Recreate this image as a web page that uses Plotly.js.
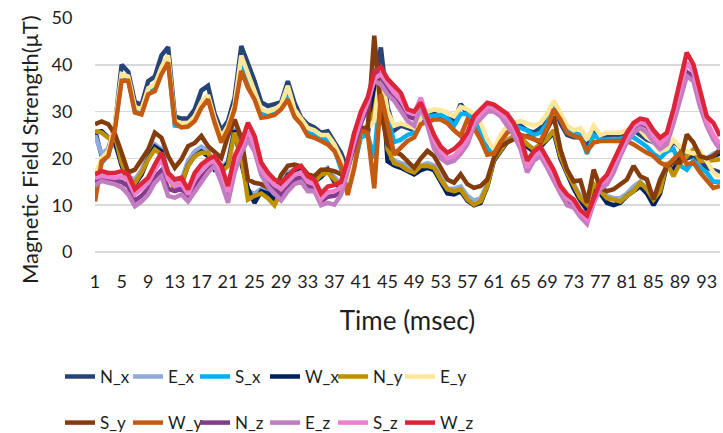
<!DOCTYPE html>
<html>
<head>
<meta charset="utf-8">
<script src="https://cdn.plot.ly/plotly-3.0.1.min.js"></script>
<style>html,body{margin:0;padding:0;background:#fff;}#chart{width:723px;height:433px;}</style>
</head>
<body>
<div id="chart"></div>
<script>
// Time index (msec)
const time = [1,2,3,4,5,6,7,8,9,10,11,12,13,14,15,16,17,18,19,20,21,22,23,24,25,26,27,28,29,30,
  31,32,33,34,35,36,37,38,39,40,41,42,43,44,45,46,47,48,49,50,51,52,53,54,55,56,57,58,59,60,
  61,62,63,64,65,66,67,68,69,70,71,72,73,74,75,76,77,78,79,80,81,82,83,84,85,86,87,88,89,90,
  91,92,93,94,95];
const xTickVals = [1,5,9,13,17,21,25,29,33,37,41,45,49,53,57,61,65,69,73,77,81,85,89,93];
const xTickLabels = ["1","5","9","13","17","21","25","29","33","37","41","45","49","53","57","61","65","69","73","77","81","85","89","93"];
const seriesNames = ["N_x","E_x","S_x","W_x","N_y","E_y","S_y","W_y","N_z","E_z","S_z","W_z"];

const N_x = [26.0,20.5,22.0,27.0,40.0,38.5,32.0,31.5,36.5,37.5,42.0,43.8,29.0,28.5,28.5,30.5,34.5,35.5,29.5,26.0,28.0,33.0,44.0,40.5,
  36.5,32.0,31.2,31.6,32.0,36.5,31.9,28.7,27.3,26.6,25.5,25.8,23.7,21.2,17.6,21.5,25.5,24.8,36.0,43.7,31.0,26.0,27.0,
  26.5,26.0,28.0,29.0,29.5,29.0,28.5,28.0,31.6,29.5,28.5,26.5,22.0,21.0,24.5,26.5,27.0,27.0,26.0,25.5,26.5,28.5,31.5,
  27.5,25.0,24.5,24.5,22.5,25.5,24.5,24.5,24.5,25.0,25.5,26.0,25.0,24.0,23.5,22.0,21.5,23.5,22.5,20.0,20.5,19.5,18.0,17.5,17.0];
const E_x = [25.0,21.0,22.0,23.0,19.5,16.0,15.5,17.5,21.0,23.0,22.0,17.0,14.5,15.5,19.5,21.5,22.5,21.5,18.5,18.0,19.5,26.5,20.0,13.0,
  12.5,13.5,13.0,11.5,14.5,17.0,17.5,18.0,16.5,16.0,17.0,18.0,16.0,14.5,16.5,21.5,26.0,26.0,34.0,40.0,21.0,19.5,19.0,
  18.5,17.5,18.5,19.0,18.5,16.0,13.5,13.5,14.0,12.0,11.0,11.5,14.5,20.0,22.0,24.0,24.8,24.5,23.0,22.0,23.0,24.5,26.0,
  21.0,17.0,14.5,12.0,10.0,14.0,13.5,12.0,11.5,11.5,12.5,14.0,15.0,13.5,11.0,13.5,19.0,17.5,20.5,21.0,21.5,20.5,20.0,21.0,21.5];
const S_x = [15.0,19.0,20.8,26.8,37.2,36.8,30.2,29.8,34.2,35.0,38.6,41.0,27.0,26.8,27.0,28.5,31.3,33.0,28.0,24.0,26.6,31.0,40.0,36.5,
  33.5,29.5,29.5,29.8,31.0,34.0,29.5,27.8,25.5,25.0,24.2,24.0,22.0,18.0,13.5,18.5,24.5,25.0,20.0,37.0,29.0,23.5,24.0,
  25.0,25.5,28.8,29.0,29.0,29.3,28.5,27.0,29.5,29.5,28.0,25.5,22.0,21.5,24.0,26.0,27.0,26.5,26.0,25.0,25.5,27.5,31.0,
  28.5,26.0,25.5,25.0,21.0,25.0,24.0,24.0,24.0,24.2,24.5,24.5,23.5,22.5,21.0,20.0,21.5,22.0,18.5,17.6,19.5,18.0,17.0,15.0,15.0];
const W_x = [25.5,25.8,24.5,23.5,18.5,15.0,14.5,16.5,20.0,22.5,21.5,16.5,13.5,14.5,18.5,20.5,21.5,20.5,17.5,17.5,19.0,26.0,19.0,13.5,
  10.5,13.0,12.5,11.0,14.0,16.5,17.0,17.5,16.0,15.0,16.0,17.5,15.0,13.5,16.0,21.0,25.5,26.0,33.0,40.0,19.4,18.5,18.0,
  17.3,16.6,17.5,18.0,17.5,15.0,12.5,12.3,13.0,11.0,10.0,10.5,14.0,19.5,21.5,23.5,24.5,24.0,22.5,21.5,22.5,24.0,25.5,
  20.0,16.5,13.5,11.0,9.0,13.5,12.5,10.5,10.0,10.5,12.0,13.0,14.0,12.5,10.0,12.5,18.5,17.5,20.0,20.5,21.0,20.0,19.5,20.5,21.0];
const N_y = [25.8,25.5,24.4,24.8,19.1,15.5,14.8,17.0,19.8,21.9,20.8,16.2,13.4,14.8,18.4,20.5,21.2,21.2,18.4,17.0,18.4,25.5,20.5,11.2,
  12.0,12.5,11.5,10.0,13.0,16.0,16.5,17.0,15.5,15.0,16.5,17.0,15.5,14.0,16.0,22.0,26.0,27.0,30.0,38.0,22.0,19.0,18.5,
  17.5,17.0,18.4,18.4,18.0,15.5,13.4,13.0,13.4,11.2,10.1,10.8,14.1,19.8,21.9,23.7,24.8,24.5,23.0,21.9,23.0,24.1,26.0,
  20.5,17.0,14.1,11.5,10.1,14.5,13.0,11.5,11.2,10.8,12.0,13.0,14.8,13.4,11.2,13.0,19.1,16.2,19.0,20.5,21.9,19.4,19.4,19.6,19.8];
const E_y = [16.5,20.0,21.5,27.5,38.0,37.5,31.0,30.5,35.0,35.8,39.5,42.0,28.0,27.5,27.5,29.0,32.0,33.5,28.5,24.5,27.0,31.5,42.0,38.0,
  34.5,30.5,30.0,30.5,31.5,35.5,30.5,28.5,26.5,26.0,25.0,25.0,23.0,20.0,15.0,19.5,25.5,26.5,28.0,39.0,30.0,27.0,27.5,
  27.0,26.5,28.5,30.0,30.5,30.3,29.8,29.0,31.0,30.5,29.5,27.6,24.0,21.9,25.0,27.0,27.6,28.0,27.5,27.0,27.6,29.5,32.3,
  29.5,27.0,26.0,26.5,24.0,27.0,25.0,25.5,25.5,25.5,26.0,26.5,26.0,24.5,23.5,21.5,22.0,24.0,22.5,21.5,21.0,21.5,19.5,17.0,16.0];
const S_y = [27.3,27.9,27.3,25.2,21.2,17.0,17.6,19.8,21.9,25.5,24.4,20.5,18.0,19.8,22.6,23.3,24.8,22.6,21.2,20.1,24.8,28.3,24.4,15.5,
  14.8,14.5,13.8,13.0,16.5,18.4,18.7,18.3,16.6,16.2,17.6,17.6,17.3,16.6,18.0,25.5,26.6,26.2,46.2,30.0,23.0,21.5,20.8,
  19.4,18.0,20.0,21.6,20.5,18.0,15.5,14.8,16.6,14.5,13.7,14.1,15.5,20.1,22.6,23.4,24.0,24.8,24.8,24.1,23.4,26.2,29.0,
  21.9,17.6,15.1,15.3,10.5,17.6,13.7,13.0,13.4,14.5,15.5,18.4,16.2,15.5,11.2,15.5,18.4,19.1,19.1,25.1,23.4,20.5,20.0,20.5,21.9];
const W_y = [10.8,19.4,20.5,26.2,36.6,36.6,29.8,29.4,33.7,34.4,38.0,40.5,27.6,26.6,26.8,28.0,30.8,32.6,27.6,23.4,26.2,30.5,38.7,35.1,
  32.6,28.7,28.9,29.3,30.5,32.6,28.9,27.3,24.8,24.4,23.7,23.0,21.6,18.5,12.2,18.0,25.9,25.5,13.6,33.7,27.3,20.8,22.3,
  23.7,24.5,27.3,27.8,28.3,28.3,27.5,26.0,24.8,28.3,26.5,24.0,20.8,21.0,23.5,25.5,26.2,25.0,24.5,24.0,23.7,26.5,30.5,
  28.3,25.5,24.8,24.4,21.6,23.4,23.7,23.7,23.7,23.7,23.7,23.0,22.0,21.2,20.5,19.1,18.4,19.8,21.2,18.7,19.1,17.0,15.5,13.7,14.1];
const N_z = [15.0,15.5,15.2,15.0,15.0,14.0,11.0,12.0,13.5,16.0,17.5,13.5,13.0,13.5,11.5,14.0,16.0,17.5,19.0,15.5,11.5,18.0,22.0,25.0,
  22.0,17.0,15.0,13.5,12.0,14.0,15.5,16.0,14.0,14.0,10.8,11.8,12.0,12.8,17.5,23.0,27.5,31.0,39.0,37.5,35.0,33.0,31.5,
  29.0,28.5,31.5,27.5,23.0,20.5,19.5,20.0,21.5,23.5,27.5,29.0,30.5,30.5,29.5,28.0,26.0,23.0,17.5,20.0,21.0,18.5,16.0,
  13.0,11.0,10.0,8.0,6.5,10.8,14.0,15.0,18.0,21.0,24.0,26.5,27.5,26.8,24.3,22.5,24.0,29.0,34.0,38.5,37.5,32.0,27.5,24.5,22.5];
const E_z = [14.2,15.2,14.8,14.5,13.8,12.3,9.8,10.8,12.3,14.8,16.2,12.0,11.6,12.3,10.8,13.0,14.8,17.0,18.4,14.8,10.5,17.0,21.2,24.0,
  21.5,16.5,14.0,12.5,11.0,13.0,14.5,15.0,13.0,13.0,10.0,10.5,10.1,12.2,17.3,24.4,28.0,32.3,36.6,35.8,33.7,32.3,30.1,
  28.0,27.0,31.0,27.0,22.0,20.0,19.0,19.5,21.0,23.0,27.0,28.5,30.0,30.0,29.0,27.0,25.0,22.0,17.0,19.5,20.5,18.0,15.0,
  12.5,10.0,9.5,7.5,6.0,10.5,13.5,14.5,17.0,20.5,23.5,25.5,26.5,25.5,23.5,22.0,23.0,27.5,33.0,37.6,36.5,31.0,27.0,24.0,21.9];
const S_z = [15.8,16.3,16.0,15.8,16.2,15.3,12.3,13.5,14.8,17.5,19.8,15.5,14.2,14.6,12.3,15.5,17.5,18.8,19.6,17.2,12.8,19.2,22.5,25.8,
  22.8,17.8,15.8,14.3,13.5,15.0,16.5,17.0,15.0,14.5,11.3,12.8,13.0,13.8,18.5,24.0,28.5,32.0,37.0,38.0,36.0,34.0,32.5,
  30.0,29.5,33.0,28.5,24.0,21.5,20.0,20.5,22.0,24.0,28.0,29.5,31.0,30.8,29.8,28.5,26.5,23.5,18.0,20.5,21.5,19.0,16.5,
  13.5,11.5,10.5,8.5,7.0,11.0,14.5,15.5,18.5,21.5,24.5,26.8,27.8,27.2,24.8,23.0,24.5,29.5,35.0,40.5,38.5,33.0,28.0,25.0,23.0];
const W_z = [16.6,17.3,16.9,16.9,17.3,16.6,13.4,14.8,15.9,18.7,21.2,16.9,15.5,15.9,13.4,16.9,18.7,19.8,20.5,18.4,14.1,20.5,23.4,27.6,
  24.8,19.1,17.0,15.5,14.8,16.2,17.7,18.4,16.2,15.5,12.5,14.0,14.3,15.0,19.6,25.5,30.0,33.0,38.5,39.5,37.0,35.5,34.0,
  30.5,30.0,31.9,28.5,25.0,22.5,21.2,22.0,23.4,25.5,29.0,30.5,31.9,31.5,30.5,29.5,27.5,24.5,19.5,21.5,22.5,20.0,17.5,
  14.1,12.3,11.2,9.0,7.8,11.5,15.0,16.5,19.5,22.6,25.5,27.6,28.5,28.2,26.0,24.4,25.5,30.5,36.2,42.6,40.1,34.1,29.0,27.6,24.8];

const seriesValues = [N_x,E_x,S_x,W_x,N_y,E_y,S_y,W_y,N_z,E_z,S_z,W_z];
const seriesColors = ["#264478","#8FAADC","#00B0F0","#002060","#BF9000","#FFE699",
                      "#843C0C","#C55A11","#833C8B","#C27CC0","#EC80CF","#DC2538"];

const legendIds = ["legend","legend2","legend3","legend4","legend5","legend6"];
const traces = seriesNames.map((name, k) => ({
  type: "scatter",
  mode: "lines",
  name: name,
  x: time,
  y: seriesValues[k],
  line: {color: seriesColors[k], width: 4.5, shape: "linear"},
  legend: legendIds[k % 6],
  legendgroup: name,
  hoverinfo: "skip"
}));

const txt = "#1e1e1e";
const legendLefts = [-0.056, 0.0528, 0.16, 0.272, 0.3808, 0.488];
const layout = {
  width: 723,
  height: 433,
  margin: {l: 95, r: 3, t: 18, b: 181, pad: 0, autoexpand: false},
  paper_bgcolor: "#ffffff",
  plot_bgcolor: "#ffffff",
  font: {family: "Lato, sans-serif", color: txt},
  showlegend: true,
  xaxis: {
    range: [1, 95],
    tickmode: "array",
    tickvals: xTickVals,
    ticktext: xTickLabels,
    showgrid: false,
    zeroline: false,
    showline: false,
    automargin: false,
    ticks: "outside",
    ticklen: 13,
    tickcolor: "rgba(0,0,0,0)",
    tickfont: {family: "Lato, sans-serif", size: 18, color: txt},
    title: {text: "Time (msec)", font: {family: "Lato, sans-serif", size: 26, color: txt}, standoff: 21}
  },
  yaxis: {
    range: [0, 50],
    tickmode: "linear",
    tick0: 0,
    dtick: 10,
    showgrid: true,
    gridcolor: "#D9D9D9",
    gridwidth: 1.5,
    zeroline: true,
    zerolinecolor: "#D9D9D9",
    zerolinewidth: 1.5,
    showline: false,
    automargin: false,
    ticks: "outside",
    ticklen: 18,
    tickcolor: "rgba(0,0,0,0)",
    tickfont: {family: "Lato, sans-serif", size: 18, color: txt}
  },
  annotations: [{
    text: "Magnetic Field Strength(μT)",
    xref: "paper", yref: "paper",
    x: -0.104, y: 0.436,
    xanchor: "center", yanchor: "middle",
    textangle: -90,
    showarrow: false,
    font: {family: "Lato, sans-serif", size: 22, color: txt}
  }]
};
legendIds.forEach((id, c) => {
  layout[id] = {
    orientation: "v",
    xanchor: "left",
    yanchor: "top",
    x: legendLefts[c],
    y: -0.457,
    itemwidth: 30,
    tracegroupgap: 21,
    traceorder: "grouped",
    bgcolor: "rgba(0,0,0,0)",
    borderwidth: 0,
    font: {family: "Lato, sans-serif", size: 17, color: txt}
  };
});

Plotly.newPlot("chart", traces, layout, {displayModeBar: false, staticPlot: true});
</script>
</body>
</html>
